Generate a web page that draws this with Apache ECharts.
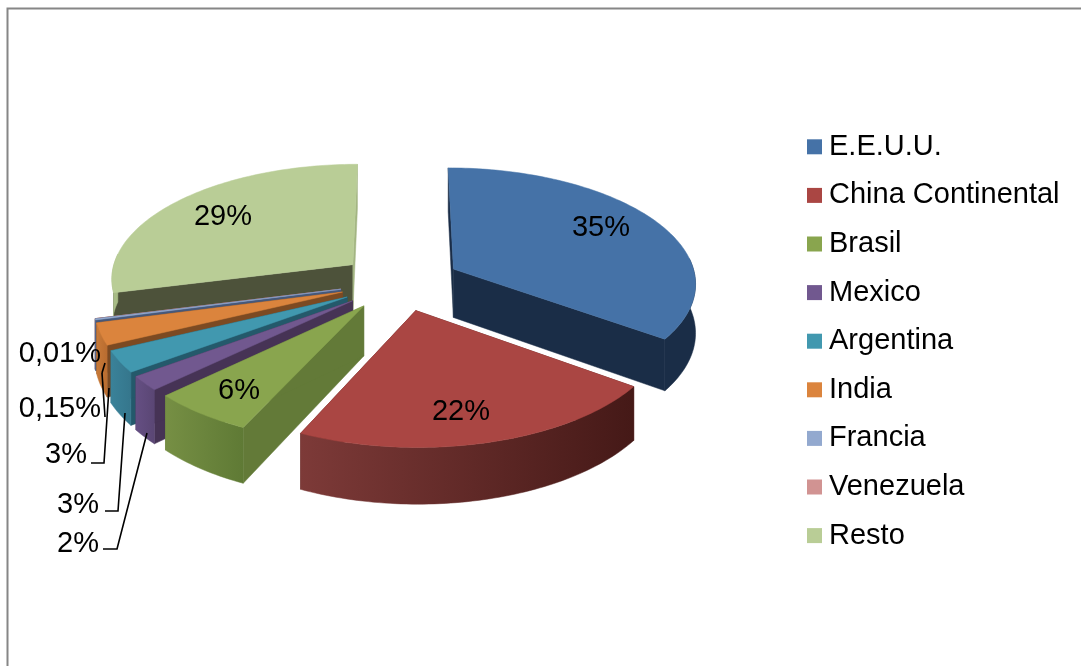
<!DOCTYPE html>
<html>
<head>
<meta charset="utf-8">
<title>Pie 3D</title>
<script src="https://cdn.jsdelivr.net/npm/echarts@6/dist/echarts.min.js"></script>
<style>
  html, body { margin: 0; padding: 0; background: #fff; }
  #chart { width: 1081px; height: 666px; }
</style>
</head>
<body>
<div id="chart"></div>
<script>
// data
const categories = ['E.E.U.U.', 'China Continental', 'Brasil', 'Mexico', 'Argentina', 'India', 'Francia', 'Venezuela', 'Resto']
const shares = [35, 22, 6, 2, 3, 3, 0.15, 0.01, 29]

// colours, one per slice
const topColors = ['#4572a7', '#aa4643', '#89a54e', '#71588f', '#4198af', '#db843d', '#93a9cf', '#d19392', '#b9cd96']
const startFace = ['#1a2d47', '#5c2321', '#637a38', '#463355', '#24596b', '#7c4a22', '#46587a', '#6e4a49', '#4d523a']
const endFace = ['#1a2d47', '#5c2321', '#637a38', '#463355', '#24596b', '#7c4a22', '#46587a', '#6e4a49', '#a3b582']
const wallLeft = ['#1a2d47', '#7d3a38', '#768f44', '#654f83', '#3a8299', '#c87a38', '#5d7099', '#a87776', '#a8bc86']
const wallRight = ['#1a2d47', '#451917', '#5f7a35', '#5a4674', '#35768c', '#b86c30', '#55658c', '#98696a', '#a8bc86']

// back slices are painted first
const paintOrder = [8, 7, 6, 5, 4, 3, 0, 2, 1]

// pie projection
const cx = 400, cy = 282, rx = 243, ry = 115, persp = 0.11, depth = 49, explode = 0.25
// outer wall only shows on the front half of the pie
const wallFrom = Math.PI * 0.47, wallTo = Math.PI * 1.53

// where the text of each slice sits, and its leader line
const labelSpots = [[601, 228], [461, 412], [239, 391], [99, 544], [99, 505], [87, 455], [101, 409], [101, 354], [223, 217]]
const labelAlign = ['center', 'center', 'center', 'right', 'right', 'right', 'right', 'right', 'center']
const leaderLines = [null, null, null,
    [[103, 549], [117, 549], [147, 433]],
    [[105, 511], [118, 511], [125, 413]],
    [[91, 463], [104, 463], [109, 388]],
    [[105, 417], [102, 373]],
    [[102, 373], [105, 363]],
    null]

const total = shares.reduce((a, b) => a + b, 0)

function project(u, v, z) {
    const s = 1 / (1 - persp * v)
    return [cx + rx * u * s, cy + ry * v * s + z * depth * s]
}

function sliceAngles(i) {
    let before = 0
    for (let k = 0; k < i; k++) before += shares[k]
    return [before / total * 2 * Math.PI, (before + shares[i]) / total * 2 * Math.PI]
}

function labelText(v) {
    return v < 1 ? v.toFixed(2).replace('.', ',') + '%' : v + '%'
}

function renderSlice(i) {
    const [a0, a1] = sliceAngles(i)
    const mid = (a0 + a1) / 2
    const ou = Math.sin(mid) * explode, ov = -Math.cos(mid) * explode
    const rim = (a, z) => project(ou + Math.sin(a), ov - Math.cos(a), z)
    const apex = z => project(ou, ov, z)

    const arc = (from, to, z) => {
        const steps = Math.max(2, Math.ceil((to - from) / 0.02))
        const pts = []
        for (let k = 0; k <= steps; k++) pts.push(rim(from + (to - from) * k / steps, z))
        return pts
    }

    const flat = (fill, points) => ({
        type: 'polygon',
        shape: { points: points },
        style: { fill: fill, stroke: fill, lineWidth: 0.5 }
    })

    const children = [
        flat(startFace[i], [apex(0), rim(a0, 0), rim(a0, 1), apex(1)]),
        flat(endFace[i], [apex(0), rim(a1, 0), rim(a1, 1), apex(1)])
    ]
    const w0 = Math.max(a0, wallFrom), w1 = Math.min(a1, wallTo)
    if (w1 > w0) {
        const wallFill = new echarts.graphic.LinearGradient(0, 0, 1, 0, [
            { offset: 0, color: wallLeft[i] },
            { offset: 1, color: wallRight[i] }
        ])
        children.push(flat(wallFill, arc(w0, w1, 0).concat(arc(w0, w1, 1).reverse())))
    }
    children.push(flat(topColors[i], [apex(0)].concat(arc(a0, a1, 0))))
    return { type: 'group', children: children }
}

const sliceSeries = categories.map((name, i) => ({
    name: name,
    type: 'custom',
    coordinateSystem: 'none',
    data: [shares[i]],
    z: 2 + paintOrder.indexOf(i),
    itemStyle: { color: topColors[i] },
    silent: true,
    renderItem: () => renderSlice(i)
}))

const labelSeries = {
    name: 'etiquetas',
    type: 'custom',
    coordinateSystem: 'none',
    data: shares,
    z: 20,
    silent: true,
    renderItem: (params) => {
        const i = params.dataIndex
        const children = [{
            type: 'text',
            style: {
                x: labelSpots[i][0], y: labelSpots[i][1],
                text: labelText(shares[i]),
                fill: '#000',
                font: '29px "Liberation Sans", Arial, sans-serif',
                textAlign: labelAlign[i], textVerticalAlign: 'middle'
            }
        }]
        if (leaderLines[i]) {
            children.push({
                type: 'polyline',
                shape: { points: leaderLines[i] },
                style: { stroke: '#000', lineWidth: 1.6, fill: null }
            })
        }
        return { type: 'group', children: children }
    }
}

const myCharts = echarts.init(document.getElementById('chart'), null, { renderer: 'canvas' })
const option = {
    animation: false,
    backgroundColor: '#fff',
    legend: {
        data: categories,
        orient: 'vertical',
        left: 802,
        top: 125,
        icon: 'rect',
        itemWidth: 15,
        itemHeight: 15,
        itemGap: 15,
        selectedMode: false,
        textStyle: {
            fontFamily: '"Liberation Sans", Arial, sans-serif',
            fontSize: 29,
            color: '#000',
            lineHeight: 33.6,
            padding: [0, 0, 0, 2]
        }
    },
    graphic: [{
        // chart frame, only top and left reach inside the photo
        type: 'polyline',
        silent: true,
        shape: { points: [[7.5, 666], [7.5, 8.5], [1081, 8.5]] },
        style: { stroke: '#868686', lineWidth: 2, fill: null }
    }],
    series: sliceSeries.concat([labelSeries])
}
myCharts.setOption(option)
</script>
</body>
</html>
